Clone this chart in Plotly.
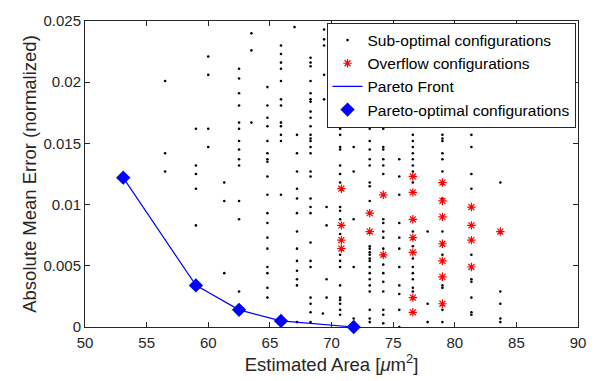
import plotly.graph_objects as go

# Sub-optimal design points, grouped by estimated area (one list of errors per area)
sub_area = [56.5, 59.0, 60.0, 61.3, 62.5, 63.5, 64.8, 65.9, 67.0, 67.2, 68.3,
            69.4, 69.6, 69.3, 70.7, 71.8, 73.1, 74.2, 75.5, 76.6, 77.8, 79.0,
            81.35, 83.7]
sub_error = [
    [0.0201, 0.0142, 0.0127],
    [0.0162, 0.0132, 0.0125, 0.0113, 0.0083],
    [0.0221, 0.0206, 0.0162, 0.0147],
    [0.0118, 0.0103, 0.0044],
    [0.0211, 0.0203, 0.0191, 0.0181, 0.0167, 0.0162, 0.0152, 0.0145, 0.0137,
     0.0132, 0.0103, 0.0088, 0.0029],
    [0.0240, 0.0226, 0.0167],
    [0.0196, 0.0181, 0.0171, 0.0164, 0.0152, 0.0142, 0.0137, 0.0135, 0.0123,
     0.0108, 0.0093, 0.0085, 0.0073, 0.0064, 0.0049, 0.0044, 0.0032, 0.0024],
    [0.0230, 0.0223, 0.0216, 0.0211, 0.0201, 0.0186, 0.0181, 0.0167, 0.0164,
     0.0157, 0.0152, 0.0108],
    [0.0245],
    [0.0157, 0.0142, 0.0127, 0.0113, 0.0105, 0.0093, 0.0078, 0.0064, 0.0054,
     0.0046, 0.0039, 0.0034, 0.0004],
    [0.0220, 0.0216, 0.0213, 0.0201, 0.0191, 0.0186, 0.0184, 0.0176, 0.0171,
     0.0164, 0.0157, 0.0154, 0.0152, 0.0147, 0.0142, 0.0127, 0.0123, 0.0105,
     0.0098, 0.0093, 0.0069, 0.0054, 0.0049, 0.0024, 0.0019, 0.0012, 0.0004],
    [0.0243, 0.0235, 0.0230, 0.0206, 0.0186],
    [0.0098, 0.0083, 0.0039, 0.0024],
    [0.0011],
    [0.0183, 0.0176, 0.0174, 0.0171, 0.0162, 0.0157, 0.0147, 0.0145, 0.0132,
     0.0125, 0.0118, 0.0098, 0.0095, 0.0088, 0.0076, 0.0059, 0.0054, 0.0049,
     0.0034, 0.0024, 0.0022, 0.0019, 0.0014, 0.0010],
    [0.0183, 0.0176, 0.0171, 0.0147, 0.0127, 0.0088, 0.0049, 0.0007],
    [0.0176, 0.0167, 0.0162, 0.0152, 0.0145, 0.0137, 0.0132, 0.0118, 0.0115,
     0.0103, 0.0066, 0.0064, 0.0061, 0.0059, 0.0056, 0.0054, 0.0049, 0.0044,
     0.0039, 0.0034, 0.0029, 0.0014, 0.0007, 0.0004],
    [0.0181, 0.0176, 0.0174, 0.0167, 0.0162, 0.0147, 0.0145, 0.0137, 0.0132,
     0.0125, 0.0088, 0.0085, 0.0078, 0.0073, 0.0064, 0.0051, 0.0044, 0.0037,
     0.0029, 0.0014, 0.0010, 0.0003],
    [0.0137, 0.0123, 0.0108, 0.0085, 0.0073, 0.0064, 0.0049, 0.0034, 0.0027,
     0.0014, 0.0],
    [0.0183, 0.0181, 0.0171, 0.0167, 0.0164, 0.0157, 0.0152, 0.0147, 0.0142,
     0.0137, 0.0132, 0.0127, 0.0118, 0.0078, 0.0066, 0.0056, 0.0049, 0.0044,
     0.0039, 0.0032, 0.0029],
    [0.0078, 0.0019, 0.0004],
    [0.0176, 0.0164, 0.0157, 0.0154, 0.0152, 0.0142, 0.0137, 0.0127, 0.0105,
     0.0078, 0.0059, 0.0034, 0.0032, 0.0014, 0.0004],
    [0.0157, 0.0147, 0.0125, 0.0113, 0.0059, 0.0039, 0.0037, 0.0024, 0.0012,
     0.0010],
    [0.0118, 0.0029, 0.0019, 0.0007, 0.0004],
]

# Configurations that overflow
overflow_area = [70.8, 73.1, 74.2, 76.6, 79.0, 81.35, 83.7]
overflow_error = [
    [0.0113, 0.0083, 0.0071, 0.0064],
    [0.0093, 0.0078],
    [0.0108, 0.0059],
    [0.0123, 0.0110, 0.0088, 0.0073, 0.0061, 0.0024, 0.0012],
    [0.0118, 0.0103, 0.0090, 0.0068, 0.0054, 0.0041, 0.0019],
    [0.0098, 0.0083, 0.0071, 0.0049],
    [0.0078],
]

# Pareto-optimal configurations
pareto_area = [53.1, 59.0, 62.5, 65.9, 71.8]
pareto_error = [0.0122, 0.0034, 0.0014, 0.0005, 0.0000]

x_ticks = [50, 55, 60, 65, 70, 75, 80, 85, 90]
y_ticks = [0, 0.005, 0.01, 0.015, 0.02, 0.025]
y_tick_text = ["0", "0.005", "0.01", "0.015", "0.02", "0.025"]


def flatten(areas, errors):
    xs, ys = [], []
    for a, errs in zip(areas, errors):
        for e in errs:
            xs.append(a)
            ys.append(e)
    return xs, ys


sx, sy = flatten(sub_area, sub_error)
ox, oy = flatten(overflow_area, overflow_error)

fig = go.Figure()
fig.add_trace(go.Scatter(
    x=sx, y=sy, mode="markers", name="Sub-optimal configurations",
    marker=dict(symbol="circle", size=2.6, color="black", line=dict(width=0)),
))
fig.add_trace(go.Scatter(
    x=ox, y=oy, mode="markers", name="Overflow configurations",
    marker=dict(symbol="asterisk-open", size=7, color="red",
                line=dict(color="red", width=1.2)),
))
fig.add_trace(go.Scatter(
    x=pareto_area, y=pareto_error, mode="lines", name="Pareto Front",
    line=dict(color="#0000ff", width=1.2), cliponaxis=False,
))
fig.add_trace(go.Scatter(
    x=pareto_area, y=pareto_error, mode="markers",
    name="Pareto-optimal configurations",
    marker=dict(symbol="diamond", size=11, color="#0000ff",
                line=dict(width=0)),
    cliponaxis=False,
))

axis_common = dict(
    showgrid=False, zeroline=False, showline=True, linecolor="#262626",
    linewidth=1, mirror="ticks", ticks="inside", ticklen=5,
    tickcolor="#262626", tickfont=dict(size=15, color="#262626"),
)

fig.update_layout(
    width=599, height=381,
    margin=dict(l=85, r=21, t=14, b=52),
    paper_bgcolor="white", plot_bgcolor="white",
    font=dict(family="Liberation Sans, Arial, sans-serif", color="#262626"),
    xaxis=dict(range=[50, 90], tickvals=x_ticks, ticklabelstandoff=2,
               title=dict(text="Estimated Area [<i>μ</i>m<sup>2</sup>]",
                          font=dict(size=18.5), standoff=5),
               **axis_common),
    yaxis=dict(range=[0, 0.025], tickvals=y_ticks, ticktext=y_tick_text,
               title=dict(text="Absolute Mean Error (normalized)",
                          font=dict(size=18.5), standoff=1),
               **axis_common),
    legend=dict(x=0.995, xanchor="right", y=0.995, yanchor="top",
                bgcolor="white", bordercolor="#262626", borderwidth=1,
                font=dict(size=15.5, color="black"),
                tracegroupgap=0, itemwidth=30),
    showlegend=True,
)

fig.write_html("out.html")
